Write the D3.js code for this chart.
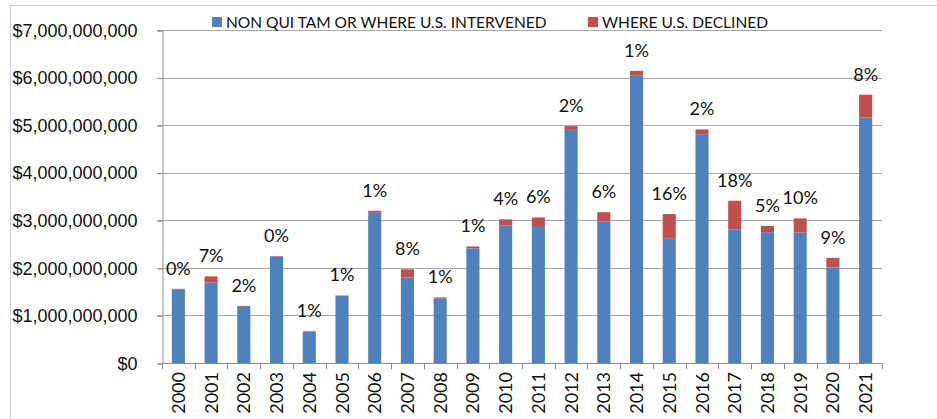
<!DOCTYPE html>
<html>
<head>
<meta charset="utf-8">
<script src="https://cdn.jsdelivr.net/npm/d3@7"></script>
<style>
  body { margin: 0; background: #fff; }
  svg { font-family: Lato, "Open Sans", sans-serif; }
</style>
</head>
<body>
<div id="chart"></div>
<script>
// years on the x axis
var years = ["2000","2001","2002","2003","2004","2005","2006","2007","2008","2009","2010",
  "2011","2012","2013","2014","2015","2016","2017","2018","2019","2020","2021"];
// recoveries in billions of dollars
var intervened = [1.55, 1.69, 1.18, 2.24, 0.66, 1.41, 3.17, 1.80, 1.36, 2.41, 2.89,
  2.88, 4.90, 2.97, 6.05, 2.61, 4.81, 2.81, 2.75, 2.74, 2.01, 5.16];
var declined = [0.01, 0.13, 0.02, 0.01, 0.01, 0.01, 0.03, 0.17, 0.02, 0.04, 0.13,
  0.18, 0.08, 0.20, 0.09, 0.52, 0.10, 0.60, 0.13, 0.30, 0.20, 0.48];
var pctLabels = ["0%","7%","2%","0%","1%","1%","1%","8%","1%","1%","4%",
  "6%","2%","6%","1%","16%","2%","18%","5%","10%","9%","8%"];
var yTicks = [0, 1, 2, 3, 4, 5, 6, 7];
var seriesNames = ["NON QUI TAM OR WHERE U.S. INTERVENED", "WHERE U.S. DECLINED"];
var seriesColors = ["#4f81bd", "#c0504d"];

var width = 937, height = 419;
var margin = {left: 162, right: 55, top: 30, bottom: 56};

var svg = d3.select("#chart").append("svg")
  .attr("width", width)
  .attr("height", height);

// outer chart frame
svg.append("rect")
  .attr("x", 10.5).attr("y", 5.5)
  .attr("width", 960).attr("height", 440)
  .attr("fill", "none")
  .attr("stroke", "#d0d0d0");

var x = d3.scaleBand()
  .domain(years)
  .range([margin.left, width - margin.right])
  .paddingInner(0.6)
  .paddingOuter(0.3);

var y = d3.scaleLinear()
  .domain([0, 7])
  .range([height - margin.bottom, margin.top]);

// gridlines
svg.append("g")
  .selectAll("line")
  .data(yTicks.slice(1))
  .enter().append("line")
  .attr("x1", margin.left - 5)
  .attr("x2", width - margin.right)
  .attr("y1", function(d) { return Math.round(y(d)) + 0.5; })
  .attr("y2", function(d) { return Math.round(y(d)) + 0.5; })
  .attr("stroke", "#a6a6a6")
  .attr("stroke-width", 1);

// y axis
var yAxis = d3.axisLeft(y)
  .tickValues(yTicks)
  .tickSize(5)
  .tickPadding(20)
  .tickFormat(function(d) { return "$" + d3.format(",")(d * 1e9); });

var yg = svg.append("g")
  .attr("transform", "translate(" + (margin.left + 0.5) + ",0.5)")
  .call(yAxis);
yg.select(".domain").attr("stroke", "#8c8c8c");
yg.selectAll(".tick line").attr("stroke", "#8c8c8c");
yg.selectAll("text")
  .attr("font-size", "18px")
  .attr("fill", "#111");

// bars
var stack = years.map(function(yr, i) {
  return {year: yr, a: intervened[i], b: declined[i], label: pctLabels[i]};
});

svg.append("g").selectAll("rect")
  .data(stack)
  .enter().append("rect")
  .attr("x", function(d) { return x(d.year); })
  .attr("width", x.bandwidth())
  .attr("y", function(d) { return y(d.a); })
  .attr("height", function(d) { return y(0) - y(d.a); })
  .attr("fill", seriesColors[0]);

svg.append("g").selectAll("rect")
  .data(stack)
  .enter().append("rect")
  .attr("x", function(d) { return x(d.year); })
  .attr("width", x.bandwidth())
  .attr("y", function(d) { return y(d.a + d.b); })
  .attr("height", function(d) { return y(d.a) - y(d.a + d.b); })
  .attr("fill", seriesColors[1]);

// percent labels above each bar
svg.append("g").selectAll("text")
  .data(stack)
  .enter().append("text")
  .attr("x", function(d) { return x(d.year) + x.bandwidth() / 2; })
  .attr("y", function(d) { return y(d.a + d.b) - 14; })
  .attr("text-anchor", "middle")
  .attr("font-size", "18px")
  .attr("fill", "#111")
  .text(function(d) { return d.label; });

// x axis with ticks between categories
var x0 = y(0);
var xg = svg.append("g");
xg.append("line")
  .attr("x1", margin.left).attr("x2", width - margin.right)
  .attr("y1", Math.round(x0) + 0.5).attr("y2", Math.round(x0) + 0.5)
  .attr("stroke", "#8c8c8c");
xg.selectAll("line.tk")
  .data(d3.range(years.length + 1))
  .enter().append("line")
  .attr("class", "tk")
  .attr("x1", function(i) { return Math.round(margin.left + i * (width - margin.right - margin.left) / years.length) + 0.5; })
  .attr("x2", function(i) { return Math.round(margin.left + i * (width - margin.right - margin.left) / years.length) + 0.5; })
  .attr("y1", x0).attr("y2", x0 + 6)
  .attr("stroke", "#8c8c8c");
xg.selectAll("text")
  .data(years)
  .enter().append("text")
  .attr("transform", function(d) {
    return "translate(" + (x(d) + x.bandwidth() / 2 + 6.5) + "," + (x0 + 9) + ") rotate(-90)";
  })
  .attr("text-anchor", "end")
  .attr("font-size", "18px")
  .attr("fill", "#111")
  .text(function(d) { return d; });

// legend
var legend = svg.append("g");
var legendX = [212, 588];
seriesNames.forEach(function(name, i) {
  legend.append("rect")
    .attr("x", legendX[i]).attr("y", 17)
    .attr("width", 10).attr("height", 10)
    .attr("fill", seriesColors[i]);
  legend.append("text")
    .attr("x", legendX[i] + 14).attr("y", 27.5)
    .attr("font-size", "15.5px")
    .attr("fill", "#111")
    .text(name);
});
</script>
</body>
</html>
